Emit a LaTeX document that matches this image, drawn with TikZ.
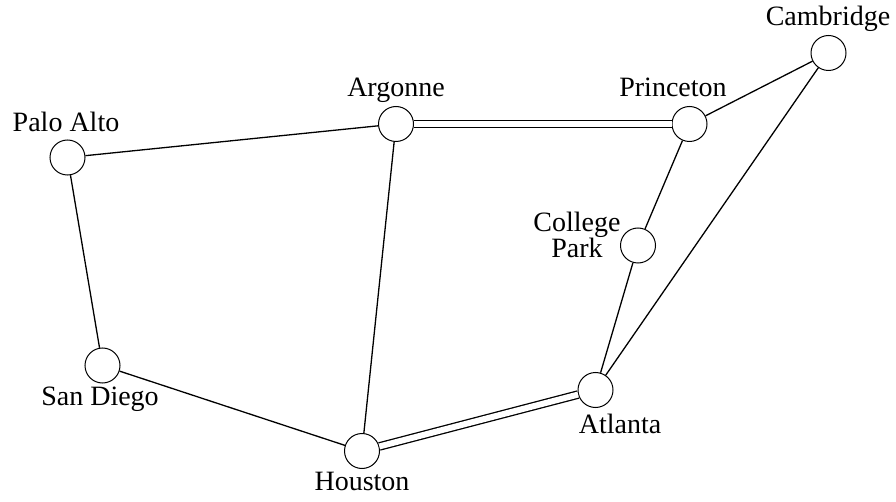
\documentclass[tikz,border=0pt]{standalone}
\usepackage{fontspec}
\setmainfont{Liberation Serif}
\begin{document}
\begin{tikzpicture}[x=1pt,y=-1pt,
  site/.style={circle,draw=black,fill=white,line width=1pt,minimum size=35pt,inner sep=0pt},
  lbl/.style={anchor=base,inner sep=0pt,font=\fontsize{28}{25}\selectfont,align=center},
  link/.style={line width=1.3pt},
  dlink/.style={line width=1.3pt,double=white,double distance=6pt}]
\useasboundingbox (0,0) rectangle (896,502);
\node[site] (pa) at (67.5,157.5) {};
\node[site] (ar) at (396,124) {};
\node[site] (pr) at (689.5,124) {};
\node[site] (ca) at (828.5,53) {};
\node[site] (cp) at (638,245.5) {};
\node[site] (sd) at (102.5,365.5) {};
\node[site] (ho) at (362,451) {};
\node[site] (at) at (595.5,390) {};
\draw[link] (pa) -- (ar);
\draw[link] (pa) -- (sd);
\draw[link] (sd) -- (ho);
\draw[link] (ar) -- (ho);
\draw[dlink] (ar) -- (pr);
\draw[link] (pr) -- (ca);
\draw[link] (pr) -- (cp);
\draw[link] (cp) -- (at);
\draw[link] (ca) -- (at);
\draw[dlink] (ho) -- (at);
\node[lbl] (tpa) at (66,132) {Palo Alto};
\node[lbl] (tar) at (396,97) {Argonne};
\node[lbl] (tpr) at (673,97) {Princeton};
\node[lbl] (tca) at (828,26) {Cambridge};
\node[lbl] (tcp) at (577,258) {College\\Park};
\node[lbl] (tsd) at (100,405) {San Diego};
\node[lbl] (tho) at (362,490) {Houston};
\node[lbl] (tat) at (620,433) {Atlanta};
\end{tikzpicture}
\end{document}
